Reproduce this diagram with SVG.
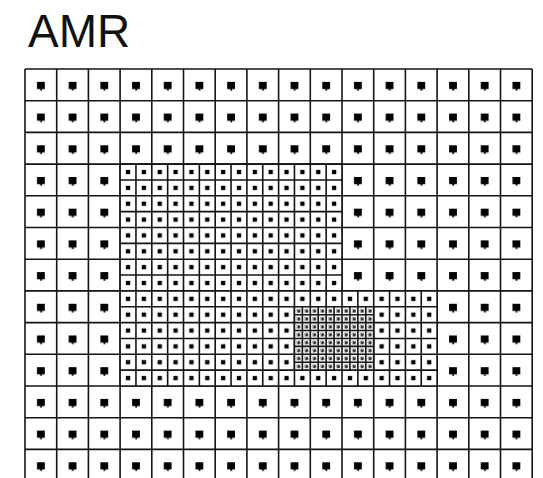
<svg xmlns="http://www.w3.org/2000/svg" width="543" height="478" viewBox="0 0 543 478">
<style>
.grid{fill:none;stroke:#141414;stroke-width:1.6}
.title{font-family:"Liberation Sans",Arial,sans-serif;font-size:46px;fill:#111}
</style>
<defs>
<pattern id="coarseDot" patternUnits="userSpaceOnUse" x="25" y="69" width="31.7" height="31.7">
<path d="M12,12.8h7.8v7.2h-2.8v1.6h-1.8v-1.6h-3.2z" fill="#000"/>
</pattern>
<pattern id="fineDot" patternUnits="userSpaceOnUse" x="120.1" y="164.1" width="15.85" height="15.85">
<rect x="5.8" y="5.8" width="4.3" height="4.3" fill="#000"/>
</pattern>
<pattern id="finestDot" patternUnits="userSpaceOnUse" x="294.45" y="306.75" width="7.925" height="7.925">
<rect x="1.8" y="1.8" width="4.4" height="4.4" fill="#b5b5b5"/>
<rect x="3.2" y="3.2" width="2.4" height="2.4" fill="#111"/>
</pattern>
</defs>
<rect width="543" height="478" fill="#fff"/>
<g id="title"><text class="title" x="28" y="47">AMR</text></g>
<g id="coarse">
<rect x="25" y="69" width="507.2" height="409" fill="url(#coarseDot)"/>
<path class="grid" d="M25,69V478M56.7,69V478M88.4,69V478M120.1,69V478M151.8,69V478M183.5,69V478M215.2,69V478M246.9,69V478M278.6,69V478M310.3,69V478M342,69V478M373.7,69V478M405.4,69V478M437.1,69V478M468.8,69V478M500.5,69V478M532.2,69V478M25,69H532.2M25,100.7H532.2M25,132.4H532.2M25,164.1H532.2M25,195.8H532.2M25,227.5H532.2M25,259.2H532.2M25,290.9H532.2M25,322.6H532.2M25,354.3H532.2M25,386H532.2M25,417.7H532.2M25,449.4H532.2"/>
</g>
<g id="fine">
<path d="M120.1,164.1H342V290.9H437.1V386H120.1Z" fill="#fff"/>
<path d="M120.1,164.1H342V290.9H437.1V386H120.1Z" fill="url(#fineDot)"/>
<path class="grid" d="M120.1,164.1V386M135.95,164.1V386M151.8,164.1V386M167.65,164.1V386M183.5,164.1V386M199.35,164.1V386M215.2,164.1V386M231.05,164.1V386M246.9,164.1V386M262.75,164.1V386M278.6,164.1V386M294.45,164.1V386M310.3,164.1V386M326.15,164.1V386M342,164.1V386M357.85,290.9V386M373.7,290.9V386M389.55,290.9V386M405.4,290.9V386M421.25,290.9V386M437.1,290.9V386M120.1,164.1H342M120.1,179.95H342M120.1,195.8H342M120.1,211.65H342M120.1,227.5H342M120.1,243.35H342M120.1,259.2H342M120.1,275.05H342M120.1,290.9H437.1M120.1,306.75H437.1M120.1,322.6H437.1M120.1,338.45H437.1M120.1,354.3H437.1M120.1,370.15H437.1M120.1,386H437.1"/>
</g>
<g id="finest">
<rect x="294.45" y="306.75" width="79.25" height="63.4" fill="#fff"/>
<rect x="294.45" y="306.75" width="79.25" height="63.4" fill="url(#finestDot)"/>
<path class="grid" d="M294.45,306.75V370.15M302.375,306.75V370.15M310.3,306.75V370.15M318.225,306.75V370.15M326.15,306.75V370.15M334.075,306.75V370.15M342,306.75V370.15M349.925,306.75V370.15M357.85,306.75V370.15M365.775,306.75V370.15M373.7,306.75V370.15M294.45,306.75H373.7M294.45,314.675H373.7M294.45,322.6H373.7M294.45,330.525H373.7M294.45,338.45H373.7M294.45,346.375H373.7M294.45,354.3H373.7M294.45,362.225H373.7M294.45,370.15H373.7"/>
</g>
</svg>
